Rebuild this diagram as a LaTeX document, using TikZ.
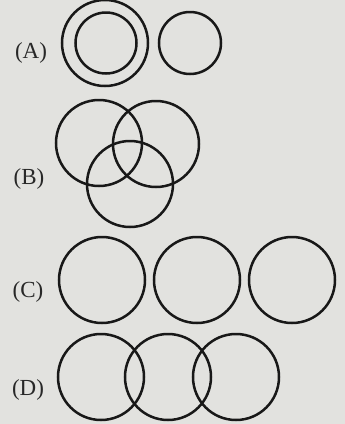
\documentclass[tikz,border=0pt]{standalone}
\usepackage{fontspec}
\setmainfont{Liberation Serif}
\usepackage{xcolor}
\usepackage{tikz}
\usetikzlibrary{positioning}
\definecolor{Paper}{RGB}{226,226,223}
\definecolor{Ink}{RGB}{24,24,24}
\definecolor{Label}{RGB}{40,40,40}

\begin{document}
\begin{tikzpicture}[x=1pt,y=-1pt,
    ring/.style={circle,draw=Ink,line width=2.5pt,inner sep=0pt,minimum size=#1},
    ring/.default=86pt,
    tag/.style={font=\fontsize{23}{26}\selectfont,text=Label,inner sep=0pt}
]
\fill[Paper] (0,0) rectangle (345,424);
\useasboundingbox (0,0) rectangle (345,424);
% (A)
\node[tag] (la) at (31,53) {(A)};
\node[ring] (aout) at (105,43) {};
\node[ring=61pt] (ain) at (106,43) {};
\node[ring=62pt] (aright) at (190,43) {};
% (B)
\node[tag] (lb) at (29,179) {(B)};
\node[ring] (bleft) at (99,143) {};
\node[ring] (bright) at (156,144) {};
\node[ring] (bbottom) at (130,184) {};
% (C)
\node[tag] (lc) at (28,292) {(C)};
\node[ring] (cone) at (102,280) {};
\node[ring] (ctwo) at (197,280) {};
\node[ring] (cthree) at (292,280) {};
% (D)
\node[tag] (ld) at (28,390) {(D)};
\node[ring] (done) at (101,377) {};
\node[ring] (dtwo) at (168,377) {};
\node[ring] (dthree) at (236,377) {};
\end{tikzpicture}
\end{document}
